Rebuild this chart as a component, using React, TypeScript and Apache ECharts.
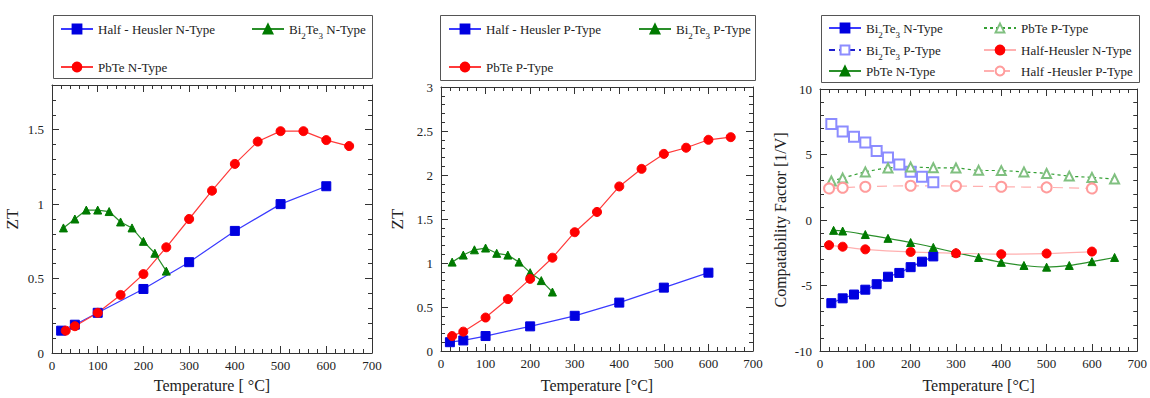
import React, { useEffect, useRef, useState } from "react";
import * as echarts from "echarts";

// ---------- data ----------
const xTicks = [0, 100, 200, 300, 400, 500, 600, 700];

// Panel 1: ZT, N-type
const tHHN = [20, 50, 100, 200, 300, 400, 500, 600];
const ztHHN = [0.15, 0.19, 0.27, 0.43, 0.61, 0.82, 1.0, 1.12];
const tBiN = [25, 50, 75, 100, 125, 150, 175, 200, 225, 250];
const ztBiN = [0.84, 0.9, 0.96, 0.96, 0.95, 0.88, 0.84, 0.75, 0.67, 0.55];
const tPbN = [30, 50, 100, 150, 200, 250, 300, 350, 400, 450, 500, 550, 600, 650];
const ztPbN = [0.15, 0.18, 0.27, 0.39, 0.53, 0.71, 0.9, 1.09, 1.27, 1.42, 1.49, 1.49, 1.43, 1.39];

// Panel 2: ZT, P-type
const tHHP = [20, 50, 100, 200, 300, 400, 500, 600];
const ztHHP = [0.1, 0.12, 0.17, 0.28, 0.4, 0.55, 0.72, 0.89];
const tBiP = [25, 50, 75, 100, 125, 150, 175, 200, 225, 250];
const ztBiP = [1.01, 1.09, 1.15, 1.17, 1.11, 1.09, 1.01, 0.89, 0.8, 0.67];
const tPbP = [25, 50, 100, 150, 200, 250, 300, 350, 400, 450, 500, 550, 600, 650];
const ztPbP = [0.17, 0.22, 0.38, 0.59, 0.82, 1.06, 1.35, 1.58, 1.87, 2.07, 2.24, 2.31, 2.4, 2.43];

// Panel 3: compatibility factor
const cfTBi = [25, 50, 75, 100, 125, 150, 175, 200, 225, 250];
const cfBiN = [-6.35, -5.98, -5.69, -5.32, -4.9, -4.33, -4.04, -3.6, -3.18, -2.78];
const cfBiP = [7.32, 6.75, 6.35, 5.91, 5.27, 4.78, 4.24, 3.69, 3.3, 2.88];
const cfTPbP = [25, 50, 100, 150, 200, 250, 300, 350, 400, 450, 500, 550, 600, 650];
const cfPbP = [2.98, 3.2, 3.67, 3.97, 4.04, 3.99, 3.97, 3.79, 3.77, 3.67, 3.55, 3.35, 3.25, 3.13];
const cfTPbN = [30, 50, 100, 150, 200, 250, 300, 350, 400, 450, 500, 550, 600, 650];
const cfPbN = [-0.79, -0.84, -1.11, -1.4, -1.72, -2.09, -2.49, -2.86, -3.23, -3.47, -3.6, -3.47, -3.18, -2.86];
const cfTHH = [20, 50, 100, 200, 300, 400, 500, 600];
const cfHHN = [-1.92, -2.04, -2.24, -2.44, -2.54, -2.61, -2.56, -2.41];
const cfHHP = [2.41, 2.46, 2.54, 2.61, 2.59, 2.54, 2.49, 2.41];

const FONT = '"Liberation Serif", serif';
const AX = "#333";

const zip = (xs: number[], ys: number[]) => xs.map((x, i) => [x, ys[i]]);

const BLUE_M = "#0000e0";
const BLUE_L = "#3a3aff";
const RED_M = "#ff0000";
const RED_L = "#ff3a3a";
const GRN_M = "#007a00";
const GRN_L = "#2a8f2a";

// [name, panel, x, y, symbol, size, markColor, lineColor, lineType, smooth]
function seriesDefs(): any[] {
  return [
    ["L::Half - Heusler N-Type", 0, tHHN, ztHHN, "rect", 9, BLUE_M, BLUE_L, "solid", false],
    ["L::Bi2Te3 N-Type", 0, tBiN, ztBiN, "triangle", 8, GRN_M, GRN_L, "solid", false],
    ["L::PbTe N-Type", 0, tPbN, ztPbN, "circle", 9, RED_M, RED_L, "solid", false],
    ["M::Half - Heusler P-Type", 1, tHHP, ztHHP, "rect", 9, BLUE_M, BLUE_L, "solid", false],
    ["M::Bi2Te3 P-Type", 1, tBiP, ztBiP, "triangle", 8, GRN_M, GRN_L, "solid", false],
    ["M::PbTe P-Type", 1, tPbP, ztPbP, "circle", 9, RED_M, RED_L, "solid", false],
    ["R::Bi2Te3 N-Type", 2, cfTBi, cfBiN, "rect", 9, BLUE_M, BLUE_L, "solid", 0.3],
    ["R::Bi2Te3 P-Type", 2, cfTBi, cfBiP, "emptyRect", 10, "#8c8cff", "#1f1fcc", [6, 4], 0.3],
    ["R::PbTe N-Type", 2, cfTPbN, cfPbN, "triangle", 8, GRN_M, GRN_L, "solid", 0.3],
    ["R::PbTe P-Type", 2, cfTPbP, cfPbP, "emptyTriangle", 9, "#80c080", "#33a033", [3, 3], 0.3],
    ["R::Half-Heusler N-Type", 2, cfTHH, cfHHN, "circle", 9, RED_M, "#ffb0b0", "solid", 0.3],
    ["R::Half -Heusler P-Type", 2, cfTHH, cfHHP, "emptyCircle", 10, "#ff9c9c", "#ffb0b0", [10, 6], 0.3],
  ];
}

function makeSeries(def: any[], withData: boolean, named: boolean) {
  const [name, g, xs, ys, symbol, size, mc, lc, lt, smooth] = def;
  const s: any = {
    type: "line",
    xAxisIndex: withData ? 2 * g : 0,
    yAxisIndex: withData ? 2 * g : 0,
    data: withData ? zip(xs, ys) : [],
    symbol,
    symbolSize: size,
    smooth,
    itemStyle: { color: mc, borderColor: mc, borderWidth: 1 },
    lineStyle: { color: lc, width: 1.2, type: lt },
  };
  if (named) s.name = name;
  return s;
}

type AxCfg = { min: number; max: number; interval: number; name: string; nameGap: number; nameSize: number };

function axisPair(g: number, isY: boolean, c: AxCfg) {
  const mk = (pos: string) => {
    const o: any = {
      gridIndex: g,
      type: "value",
      position: pos,
      min: c.min,
      max: c.max,
      interval: c.interval,
      axisLine: { show: true, onZero: false, lineStyle: { color: AX, width: 1 } },
      axisTick: { show: true, inside: true, length: 7, lineStyle: { color: AX, width: 1 } },
      minorTick: { show: true, splitNumber: 5, length: 4, lineStyle: { color: AX, width: 1 } },
      splitLine: { show: false },
      minorSplitLine: { show: false },
    };
    if (pos === "top" || pos === "right") {
      o.axisLabel = { show: false };
    } else {
      o.axisLabel = { fontFamily: FONT, fontSize: 13, color: "#222", margin: isY ? 8 : 6, showMaxLabel: !(isY && g === 0) };
      o.name = c.name;
      o.nameLocation = "middle";
      o.nameGap = c.nameGap;
      o.nameTextStyle = { fontFamily: FONT, fontSize: c.nameSize, color: "#222" };
    }
    return o;
  };
  return isY ? [mk("left"), mk("right")] : [mk("bottom"), mk("top")];
}

const fmt = (name: string) => {
  const t = name.split("::")[1] || name;
  return t.replace("Bi2Te3", "Bi{s|2}Te{s|3}");
};

function leg(name: string, left: number, rowY: number) {
  return {
    data: [name],
    left,
    top: rowY - 12,
    orient: "horizontal",
    padding: 0,
    itemGap: 0,
    itemWidth: 32,
    itemHeight: 11,
    selectedMode: false,
    formatter: fmt,
    textStyle: {
      fontFamily: FONT,
      fontSize: 13,
      color: "#222",
      lineHeight: 24,
      rich: { s: { fontFamily: FONT, fontSize: 9, color: "#222", lineHeight: 10, padding: [14, 0, 0, 0] } },
    },
  };
}

export default function App() {
  const refA = useRef<HTMLDivElement>(null);
  const refB = useRef<HTMLDivElement>(null);
  const [err, setErr] = useState("");
  useEffect(() => {
    if (!refA.current || !refB.current) return;
    const chartA = echarts.init(refA.current, undefined, { renderer: "svg" });
    const chartB = echarts.init(refB.current, undefined, { renderer: "svg" });
    const defs = seriesDefs();

    const optionA: any = {
      animation: false,
      textStyle: { fontFamily: FONT },
      grid: [
        { left: 52, top: 85, width: 320, height: 270 },
        { left: 441, top: 87, width: 312, height: 266 },
        { left: 820, top: 89, width: 320, height: 271 },
      ],
      xAxis: [
        ...axisPair(0, false, { min: xTicks[0], max: xTicks[7], interval: 100, name: "Temperature [ °C]", nameGap: 24, nameSize: 16 }),
        ...axisPair(1, false, { min: xTicks[0], max: xTicks[7], interval: 100, name: "Temperature [°C]", nameGap: 26, nameSize: 16 }),
        ...axisPair(2, false, { min: xTicks[0], max: xTicks[7], interval: 100, name: "Temperature [°C]", nameGap: 26, nameSize: 16 }),
      ],
      yAxis: [
        ...axisPair(0, true, { min: 0, max: 1.8, interval: 0.5, name: "ZT", nameGap: 31, nameSize: 17 }),
        ...axisPair(1, true, { min: 0, max: 3, interval: 0.5, name: "ZT", nameGap: 35, nameSize: 17 }),
        ...axisPair(2, true, { min: -10, max: 10, interval: 5, name: "Compatability Factor [1/V]", nameGap: 32, nameSize: 16 }),
      ],
      series: defs.map((d) => makeSeries(d, true, false)),
    };

    const optionB: any = {
      animation: false,
      textStyle: { fontFamily: FONT },
      grid: [{ left: 0, top: 0, width: 10, height: 10, show: false }],
      xAxis: [{ type: "value", show: false, gridIndex: 0 }],
      yAxis: [{ type: "value", show: false, gridIndex: 0 }],
      legend: [
        leg("L::Half - Heusler N-Type", 60, 29),
        leg("L::Bi2Te3 N-Type", 251, 29),
        leg("L::PbTe N-Type", 60, 67),
        leg("M::Half - Heusler P-Type", 448, 29),
        leg("M::Bi2Te3 P-Type", 638, 29),
        leg("M::PbTe P-Type", 448, 67),
        leg("R::Bi2Te3 N-Type", 828, 28),
        leg("R::Bi2Te3 P-Type", 828, 50),
        leg("R::PbTe N-Type", 828, 71),
        leg("R::PbTe P-Type", 983, 28),
        leg("R::Half-Heusler N-Type", 983, 50),
        leg("R::Half -Heusler P-Type", 983, 71),
      ],
      graphic: [
        { type: "rect", shape: { x: 53.5, y: 15.5, width: 319, height: 63 }, style: { fill: "none", stroke: "#555", lineWidth: 1 } },
        { type: "rect", shape: { x: 440.5, y: 15.5, width: 315, height: 65 }, style: { fill: "none", stroke: "#555", lineWidth: 1 } },
        { type: "rect", shape: { x: 821.5, y: 15.5, width: 318, height: 67 }, style: { fill: "none", stroke: "#555", lineWidth: 1 } },
      ],
      series: defs.map((d) => makeSeries(d, false, true)),
    };
    try {
      chartA.setOption(optionA);
    } catch (e: any) {
      setErr((p) => p + " A:" + String(e && e.message ? e.message : e));
    }
    try {
      chartB.setOption(optionB);
    } catch (e: any) {
      setErr((p) => p + " B:" + String(e && e.message ? e.message : e));
    }
    return () => {
      chartA.dispose();
      chartB.dispose();
    };
  }, []);
  return (
    <div style={{ position: "fixed", left: 0, top: 0, width: 1150, height: 398, background: "#fff" }}>
      <div ref={refA} style={{ position: "absolute", left: 0, top: 0, width: 1150, height: 398 }} />
      <div ref={refB} style={{ position: "absolute", left: 0, top: 0, width: 1150, height: 100, pointerEvents: "none" }} />
      {err ? <pre style={{ position: "absolute", left: 0, top: 0, fontSize: 10, margin: 0 }}>{err}</pre> : null}
    </div>
  );
}
